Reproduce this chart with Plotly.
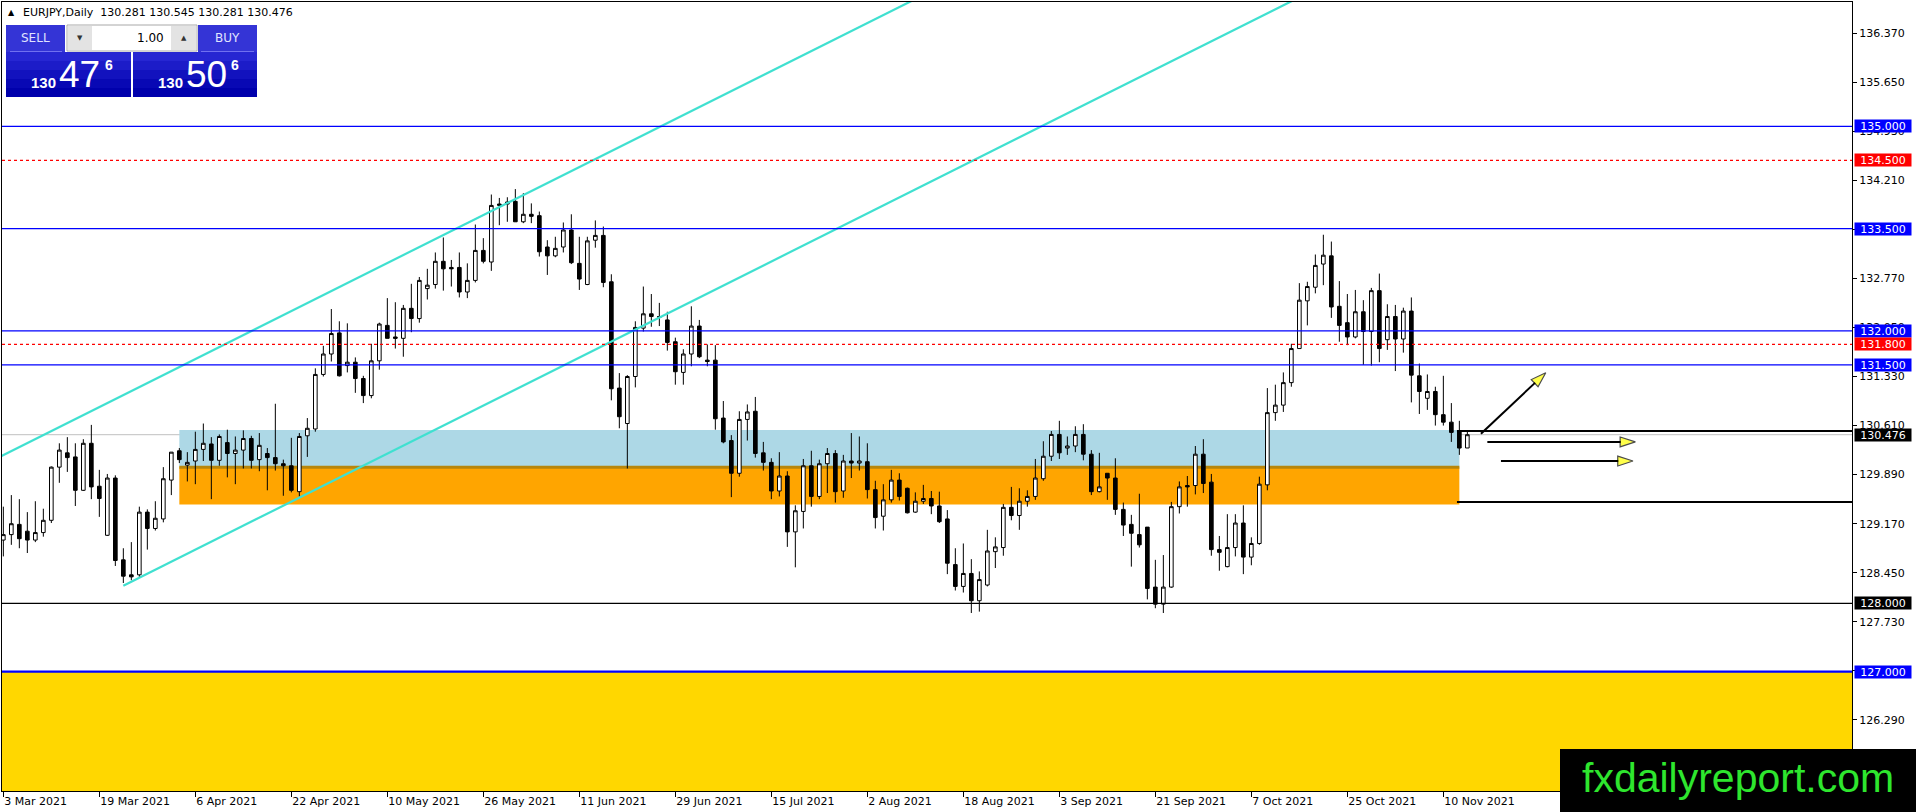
import plotly.graph_objects as go

# EURJPY daily candles, bar index 0 = 3 Mar 2021
open_ = [128.93, 129.01, 129.16, 129.06, 128.93, 129.04, 129.22, 130.00, 130.21, 130.15,
         129.66, 130.35, 129.72, 129.00, 129.84, 128.64, 128.42, 128.42, 129.34, 129.10,
         129.24, 129.81, 130.24, 130.03, 130.09, 130.26, 130.34, 130.10, 130.36, 130.20,
         130.25, 130.42, 130.11, 130.20, 130.14, 130.05, 130.02, 129.64, 130.46, 130.56,
         131.36, 131.66, 131.97, 131.49, 131.54, 131.30, 131.05, 131.56, 132.08, 131.91,
         131.89, 132.33, 132.18, 132.62, 132.68, 133.02, 132.93, 132.93, 132.57, 132.74,
         133.18, 133.01, 133.84, 133.86, 133.90, 133.60, 133.71, 133.69, 133.23, 133.10,
         133.23, 133.48, 132.99, 132.68, 133.33, 133.40, 132.72, 131.16, 130.64, 131.33,
         132.04, 132.25, 132.21, 132.16, 131.84, 131.39, 131.66, 132.07, 131.57, 131.57,
         130.72, 130.39, 129.91, 130.70, 130.82, 130.21, 130.07, 129.65, 129.87, 129.05,
         129.35, 130.02, 129.57, 130.05, 130.20, 129.65, 130.09, 130.06, 130.08, 129.67,
         129.28, 129.52, 129.81, 129.69, 129.34, 129.50, 129.54, 129.43, 129.24, 128.57,
         128.25, 128.44, 128.04, 128.27, 128.76, 128.82, 129.41, 129.29, 129.50, 129.57,
         129.83, 130.16, 130.48, 130.28, 130.31, 130.48, 130.19, 129.64, 129.91, 129.84,
         129.38, 129.16, 129.01, 129.12, 128.24, 127.99, 128.24, 129.42, 129.73, 129.73,
         130.19, 129.78, 128.79, 128.54, 128.82, 129.18, 128.68, 128.88, 129.74, 130.80,
         130.91, 131.24, 131.74, 132.44, 132.64, 132.98, 133.10, 132.36, 132.12, 131.91,
         132.28, 131.99, 132.59, 131.87, 132.21, 131.88, 132.29, 131.34, 131.01, 131.11,
         130.77, 130.66, 130.53, 130.281]
high = [129.42, 129.59, 129.53, 129.34, 129.50, 129.39, 130.01, 130.35, 130.44, 130.35,
        130.41, 130.62, 129.96, 129.90, 129.88, 128.81, 128.90, 129.42, 129.38, 129.50,
        130.00, 130.22, 130.28, 130.22, 130.52, 130.64, 130.44, 130.48, 130.55, 130.45,
        130.54, 130.46, 130.50, 130.28, 130.93, 130.11, 130.43, 130.50, 130.72, 131.45,
        131.78, 132.32, 132.14, 132.11, 131.61, 131.34, 131.81, 132.12, 132.48, 132.42,
        132.38, 132.69, 132.79, 132.91, 133.15, 133.37, 133.04, 133.15, 132.99, 133.56,
        133.36, 134.00, 133.95, 133.96, 134.08, 134.02, 133.87, 133.75, 133.33, 133.38,
        133.59, 133.71, 133.38, 133.38, 133.62, 133.53, 132.83, 131.38, 131.35, 132.14,
        132.65, 132.54, 132.41, 132.28, 131.90, 131.73, 132.36, 132.16, 131.80, 131.79,
        130.97, 130.47, 130.82, 130.92, 131.03, 130.37, 130.13, 130.22, 129.94, 129.44,
        130.12, 130.24, 130.11, 130.28, 130.25, 130.18, 130.50, 130.45, 130.35, 129.80,
        129.75, 129.96, 129.91, 129.70, 129.63, 129.74, 129.65, 129.64, 129.37, 128.81,
        128.88, 128.65, 128.47, 129.08, 128.97, 129.46, 129.71, 129.69, 129.66, 130.12,
        130.38, 130.53, 130.68, 130.45, 130.60, 130.63, 130.25, 130.21, 129.91, 130.13,
        129.48, 129.30, 129.61, 129.12, 128.64, 128.71, 129.49, 129.79, 129.87, 130.31,
        130.41, 129.90, 128.99, 129.31, 129.31, 129.44, 128.97, 129.86, 131.16, 131.21,
        131.39, 131.81, 132.70, 132.72, 133.12, 133.41, 133.31, 132.73, 132.54, 132.60,
        132.45, 132.63, 132.84, 132.39, 132.38, 132.34, 132.49, 131.52, 131.36, 131.18,
        131.34, 130.94, 130.68, 130.545]
low = [128.69, 128.86, 128.81, 128.74, 128.90, 128.98, 129.18, 129.77, 129.93, 129.43,
       129.65, 129.53, 129.27, 128.99, 128.55, 128.30, 128.34, 128.39, 128.79, 129.07,
       129.19, 129.59, 130.06, 129.79, 129.75, 130.09, 129.53, 130.02, 129.85, 129.75,
       129.98, 129.98, 129.94, 129.66, 129.95, 129.58, 129.63, 129.57, 130.15, 130.52,
       131.33, 131.55, 131.33, 131.39, 131.09, 130.94, 131.01, 131.43, 131.89, 131.74,
       131.62, 131.98, 132.12, 132.46, 132.62, 132.59, 132.65, 132.49, 132.48, 132.71,
       132.99, 132.88, 133.55, 133.60, 133.60, 133.58, 133.58, 133.09, 132.82, 133.08,
       133.15, 132.98, 132.60, 132.67, 133.22, 132.64, 130.98, 130.57, 129.98, 131.17,
       131.99, 132.06, 132.07, 131.71, 131.21, 131.21, 131.48, 131.60, 131.48, 130.55,
       130.35, 129.56, 129.86, 130.39, 130.14, 129.95, 129.53, 129.57, 128.83, 128.53,
       129.10, 129.42, 129.53, 129.62, 129.48, 129.55, 129.84, 129.95, 129.54, 129.10,
       129.07, 129.48, 129.51, 129.32, 129.33, 129.46, 129.31, 129.18, 128.43, 128.19,
       128.16, 127.86, 127.88, 128.25, 128.52, 128.70, 129.22, 129.08, 129.42, 129.52,
       129.80, 130.09, 130.12, 130.18, 130.22, 130.10, 129.59, 129.63, 129.52, 129.30,
       128.99, 128.54, 128.82, 128.06, 127.93, 127.86, 128.23, 129.32, 129.42, 129.60,
       129.62, 128.70, 128.48, 128.53, 128.69, 128.43, 128.56, 128.86, 129.66, 130.68,
       130.81, 131.18, 131.74, 132.08, 132.55, 132.67, 132.19, 131.84, 131.79, 131.89,
       131.50, 131.49, 131.54, 131.72, 131.41, 131.68, 130.95, 130.78, 130.84, 130.61,
       130.61, 130.37, 130.18, 130.281]
close = [129.01, 129.17, 128.95, 128.93, 129.04, 129.22, 130.00, 130.25, 130.14, 129.66,
         130.35, 129.71, 129.54, 129.84, 128.63, 128.40, 128.39, 129.34, 129.10, 129.25,
         129.83, 130.22, 130.11, 130.07, 130.26, 130.35, 130.10, 130.45, 130.20, 130.25,
         130.42, 130.10, 130.32, 130.14, 130.05, 130.02, 129.66, 130.45, 130.57, 131.36,
         131.66, 131.96, 131.34, 131.54, 131.30, 131.05, 131.56, 132.10, 131.89, 131.89,
         132.33, 132.18, 132.74, 132.67, 133.02, 132.91, 132.91, 132.57, 132.74, 133.18,
         133.02, 133.84, 133.86, 133.89, 133.60, 133.71, 133.68, 133.16, 133.10, 133.21,
         133.48, 133.00, 132.76, 133.32, 133.40, 132.71, 131.15, 130.74, 131.33, 132.05,
         132.25, 132.21, 132.20, 131.83, 131.40, 131.66, 132.07, 131.62, 131.55, 130.71,
         130.37, 129.91, 130.70, 130.81, 130.20, 130.07, 129.65, 129.87, 129.05, 129.36,
         130.02, 129.57, 130.05, 130.20, 129.64, 130.09, 130.06, 130.09, 129.67, 129.26,
         129.52, 129.81, 129.57, 129.33, 129.50, 129.54, 129.43, 129.20, 128.59, 128.25,
         128.44, 128.04, 128.35, 128.77, 128.83, 129.41, 129.29, 129.50, 129.57, 129.84,
         130.16, 130.48, 130.21, 130.31, 130.48, 130.19, 129.64, 129.71, 129.84, 129.38,
         129.15, 129.03, 128.86, 128.22, 127.99, 128.24, 129.42, 129.71, 129.71, 130.19,
         129.76, 128.79, 128.75, 128.82, 129.18, 128.68, 128.88, 129.75, 130.80, 130.91,
         131.24, 131.74, 132.45, 132.65, 132.96, 133.11, 132.35, 132.08, 131.91, 132.28,
         131.99, 132.59, 131.74, 132.21, 131.88, 132.29, 131.35, 131.11, 131.11, 130.77,
         130.66, 130.51, 130.28, 130.476]
bars = list(range(len(close)))

date_bars = [0, 12, 24, 36, 48, 60, 72, 84, 96, 108, 120, 132, 144, 156, 168, 180]
date_labels = ["3 Mar 2021", "19 Mar 2021", "6 Apr 2021", "22 Apr 2021", "10 May 2021",
               "26 May 2021", "11 Jun 2021", "29 Jun 2021", "15 Jul 2021", "2 Aug 2021",
               "18 Aug 2021", "3 Sep 2021", "21 Sep 2021", "7 Oct 2021", "25 Oct 2021",
               "10 Nov 2021"]

price_ticks = [136.37, 135.65, 134.93, 134.21, 133.49, 132.77, 132.05, 131.33, 130.61,
               129.89, 129.17, 128.45, 127.73, 127.01, 126.29]

blue_levels = [135.0, 133.5, 132.0, 131.5]
red_levels = [134.5, 131.8]
black_level = 128.0
gold_top = 127.0
last_price = 130.476

zone_bars = [22, 182]
blue_zone = [130.0, 130.545]
orange_zone = [129.45, 130.0]
right_line_start = 181.7
right_lines = [130.53, 129.49]

upper_channel_x = [-5, 120]
upper_channel_y = [129.885, 137.22]
lower_channel_x = [15, 165]
lower_channel_y = [128.26, 137.07]

# arrows: [start, tip]
up_arrow_x = [184.7, 192.8]
up_arrow_y = [130.49, 131.385]
flat_arrows_x = [[185.5, 204.0], [187.2, 203.7]]
flat_arrows_y = [[130.37, 130.37], [130.09, 130.09]]

header_text = "EURJPY,Daily\u00a0\u00a0130.281 130.545 130.281 130.476"
sell_price = ("130", "47", "6")
buy_price = ("130", "50", "6")
lot_size = "1.00"

W, H = 1916, 812
ML, MR, MT, MB = 2, 64, 2, 21
x_range = [-0.166, 231.08]
y_range = [125.248, 136.825]


def px(x):
    return (x - ML) / (W - ML - MR)


def py(y):
    return (H - MB - y) / (H - MT - MB)


fig = go.Figure()

fig.add_trace(go.Candlestick(
    x=bars, open=open_, high=high, low=low, close=close,
    increasing=dict(line=dict(color="black", width=1), fillcolor="white"),
    decreasing=dict(line=dict(color="black", width=1), fillcolor="black"),
    whiskerwidth=0, showlegend=False, hoverinfo="skip",
))

# channel lines
for xs, ys in [(upper_channel_x, upper_channel_y), (lower_channel_x, lower_channel_y)]:
    fig.add_trace(go.Scatter(x=xs, y=ys, mode="lines",
                             line=dict(color="#40E0D0", width=2.2),
                             showlegend=False, hoverinfo="skip"))

# arrows with yellow heads
arrow_sets = [(up_arrow_x, up_arrow_y)] + list(zip(flat_arrows_x, flat_arrows_y))
for xs, ys in arrow_sets:
    fig.add_trace(go.Scatter(
        x=xs, y=ys, mode="lines+markers",
        line=dict(color="black", width=2),
        marker=dict(symbol="arrow", angleref="previous", size=[0, 16],
                    color="#FFFF00", line=dict(color="black", width=1.2)),
        showlegend=False, hoverinfo="skip"))

shapes = []
# zones
shapes.append(dict(type="rect", xref="paper", yref="y", x0=0, x1=1,
                   y0=y_range[0], y1=gold_top, fillcolor="#FFD700", line_width=0, layer="below"))
shapes.append(dict(type="rect", xref="x", yref="y", x0=zone_bars[0], x1=zone_bars[1],
                   y0=blue_zone[0], y1=blue_zone[1], fillcolor="#ADD8E6", line_width=0, layer="below"))
shapes.append(dict(type="rect", xref="x", yref="y", x0=zone_bars[0], x1=zone_bars[1],
                   y0=orange_zone[0], y1=orange_zone[1], fillcolor="#FFA500", line_width=0, layer="below"))
shapes.append(dict(type="line", xref="x", yref="y", x0=zone_bars[0], x1=zone_bars[1],
                   y0=blue_zone[0], y1=blue_zone[0], line=dict(color="#B8860B", width=3), layer="below"))
shapes.append(dict(type="line", xref="paper", yref="y", x0=0, x1=1, y0=last_price, y1=last_price,
                   line=dict(color="#C0C0C0", width=1), layer="below"))

for lv in blue_levels:
    shapes.append(dict(type="line", xref="paper", yref="y", x0=0, x1=1, y0=lv, y1=lv,
                       line=dict(color="#0000FF", width=1.2)))
for lv in red_levels:
    shapes.append(dict(type="line", xref="paper", yref="y", x0=0, x1=1, y0=lv, y1=lv,
                       line=dict(color="#FF0000", width=1.2, dash="3px,3px")))
shapes.append(dict(type="line", xref="paper", yref="y", x0=0, x1=1, y0=black_level, y1=black_level,
                   line=dict(color="black", width=1.2)))
shapes.append(dict(type="line", xref="paper", yref="y", x0=0, x1=1, y0=gold_top, y1=gold_top,
                   line=dict(color="#0000FF", width=2.2)))
for lv in right_lines:
    shapes.append(dict(type="line", xref="x", yref="y", x0=right_line_start, x1=x_range[1],
                       y0=lv, y1=lv, line=dict(color="black", width=2)))

# one-click trading panel
def prect(x0, y0, x1, y1, fill, line_color=None):
    return dict(type="rect", xref="paper", yref="paper", x0=px(x0), x1=px(x1),
                y0=py(y1), y1=py(y0), fillcolor=fill,
                line=dict(color=line_color or fill, width=1 if line_color else 0), layer="above")

shapes.append(prect(6, 25, 65, 52, "#3434D6"))
shapes.append(prect(198, 25, 257, 52, "#3434D6"))
shapes.append(prect(67, 25, 197, 51, "white", "#A8A8A8"))
shapes.append(prect(68, 26, 92, 50, "#E3E3E3"))
shapes.append(prect(171, 26, 196, 50, "#E3E3E3"))
bands = ["#2626D2", "#1C1CC8", "#1212BE", "#0808B4", "#0000AC"]
for i, c in enumerate(bands):
    y0 = 52 + i * 9
    shapes.append(prect(6, y0, 131, y0 + 9, c))
    shapes.append(prect(133, y0, 257, y0 + 9, c))
for x0, x1 in [(10, 62), (201, 254)]:
    shapes.append(dict(type="line", xref="paper", yref="paper", x0=px(x0), x1=px(x1),
                       y0=py(51.5), y1=py(51.5), line=dict(color="#7070F0", width=1), layer="above"))
# watermark box
shapes.append(dict(type="rect", xref="paper", yref="paper", x0=px(1560), x1=px(1918),
                   y0=py(814), y1=py(749), fillcolor="black", line_width=0, layer="above"))

annotations = []


def note(text, x, y, size, color="black", family="DejaVu Sans", xanchor="center", bold=False):
    annotations.append(dict(text=f"<b>{text}</b>" if bold else text, xref="paper", yref="paper",
                            x=px(x), y=py(y), xanchor=xanchor, yanchor="middle", showarrow=False,
                            font=dict(size=size, color=color, family=family)))


note("\u25B2", 11, 12.5, 8)
note(header_text, 21, 13, 11, xanchor="left")
note("SELL", 35, 38.5, 12, color="#E0E4FF")
note("BUY", 227, 38.5, 12, color="#E0E4FF")
note(lot_size, 166, 38.5, 12, xanchor="right")
note("\u25BC", 80, 38.5, 7, color="#333333")
note("\u25B2", 183.5, 38, 7, color="#333333")
for (small, big, sup), cx in [(sell_price, 0), (buy_price, 127)]:
    note(small, 43 + cx, 82.5, 15, color="white", family="Liberation Sans", bold=True)
    note(big, 79 + cx, 74, 37, color="white", family="Liberation Sans")
    note(sup, 108.5 + cx, 65, 14, color="white", family="Liberation Sans", bold=True)
note("fxdailyreport.com", 1738, 778, 41, color="#2EE62E", family="Liberation Sans")

# price labels on the right scale
label_levels = [(135.0, "#0000FF"), (134.5, "#FF0000"), (133.5, "#0000FF"), (132.0, "#0000FF"),
                (131.8, "#FF0000"), (131.5, "#0000FF"), (last_price, "black"),
                (black_level, "black"), (gold_top, "#0000FF")]
for lv, bg in label_levels:
    annotations.append(dict(text=f"{lv:.3f}", xref="paper", yref="y", x=px(1854), y=lv,
                            xanchor="left", yanchor="middle", showarrow=False, width=56, height=12,
                            align="center", bgcolor=bg, borderpad=0,
                            font=dict(size=11, color="white", family="DejaVu Sans")))

fig.update_layout(
    width=W, height=H,
    margin=dict(l=ML, r=MR, t=MT, b=MB, pad=0),
    paper_bgcolor="white", plot_bgcolor="white",
    shapes=shapes, annotations=annotations,
    font=dict(family="DejaVu Sans", size=11, color="black"),
    boxgap=0.35,
    xaxis=dict(range=x_range, tickvals=date_bars, ticktext=date_labels,
               ticks="outside", ticklen=5, tickcolor="black", ticklabelposition="outside right",
               showgrid=False, zeroline=False, showline=True, linecolor="black", linewidth=1,
               mirror=True, rangeslider=dict(visible=False),
               tickfont=dict(family="DejaVu Sans", size=11)),
    yaxis=dict(range=y_range, side="right", tickvals=price_ticks, tickformat=".3f",
               ticks="outside", ticklen=4, tickcolor="black", showgrid=False, zeroline=False,
               showline=True, linecolor="black", linewidth=1, mirror=True,
               tickfont=dict(family="DejaVu Sans", size=11)),
)

fig.write_html("out.html", config={"displayModeBar": False},
               post_script="document.body.style.margin='0';document.body.style.overflow='hidden';")
